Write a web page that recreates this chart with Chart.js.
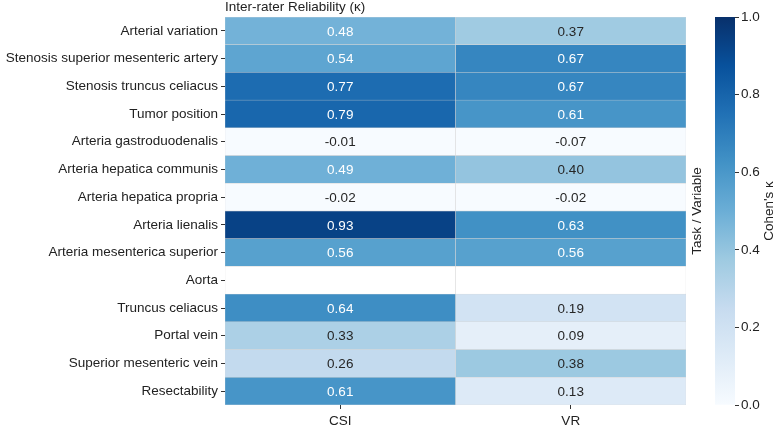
<!DOCTYPE html>
<html>
<head>
<meta charset="utf-8">
<script src="https://cdn.jsdelivr.net/npm/chart.js@4.4.1/dist/chart.umd.min.js"></script>
<style>
html, body { margin: 0; padding: 0; background: #fff; }
#wrap { position: relative; width: 777px; height: 436px; }
#heat { position: absolute; left: 0; top: 0; }
#cbar { position: absolute; left: 700px; top: 0; }
</style>
</head>
<body>
<div id="wrap">
  <canvas id="heat" width="777" height="436"></canvas>
  <canvas id="cbar" width="77" height="436"></canvas>
</div>
<script>
// data
const rows = [
    'Arterial variation',
    'Stenosis superior mesenteric artery',
    'Stenosis truncus celiacus',
    'Tumor position',
    'Arteria gastroduodenalis',
    'Arteria hepatica communis',
    'Arteria hepatica propria',
    'Arteria lienalis',
    'Arteria mesenterica superior',
    'Aorta',
    'Truncus celiacus',
    'Portal vein',
    'Superior mesenteric vein',
    'Resectability'
];
const columns = ['CSI', 'VR'];
const csiValues = [0.48, 0.54, 0.77, 0.79, -0.01, 0.49, -0.02, 0.93, 0.56, null, 0.64, 0.33, 0.26, 0.61];
const vrValues = [0.37, 0.67, 0.67, 0.61, -0.07, 0.40, -0.02, 0.63, 0.56, null, 0.19, 0.09, 0.38, 0.13];
const colorbarTicks = [0, 0.2, 0.4, 0.6, 0.8, 1.0];

const FONT = '13.5px "Liberation Sans", Arial, sans-serif';
Chart.defaults.font.family = '"Liberation Sans", Arial, sans-serif';
Chart.defaults.font.size = 13.5;
Chart.defaults.color = '#222';

// matplotlib "Blues"
const blues = ['#f7fbff', '#deebf7', '#c6dbef', '#9ecae1', '#6baed6', '#4292c6', '#2171b5', '#08519c', '#08306b'];

function hexToRgb(h) {
    return [parseInt(h.slice(1, 3), 16), parseInt(h.slice(3, 5), 16), parseInt(h.slice(5, 7), 16)];
}

function bluesRgb(v) {
    let t = Math.max(0, Math.min(1, v)) * (blues.length - 1);
    let i = Math.min(Math.floor(t), blues.length - 2);
    let f = t - i;
    const a = hexToRgb(blues[i]), b = hexToRgb(blues[i + 1]);
    return a.map((c, k) => Math.round(c + (b[k] - c) * f));
}

function bluesColor(v) {
    const c = bluesRgb(v);
    return `rgb(${c[0]},${c[1]},${c[2]})`;
}

// seaborn-style text colour choice
function textColor(v) {
    const lin = bluesRgb(v).map(c => {
        c = c / 255;
        return c <= 0.03928 ? c / 12.92 : Math.pow((c + 0.055) / 1.055, 2.4);
    });
    const lum = 0.2126 * lin[0] + 0.7152 * lin[1] + 0.0722 * lin[2];
    return lum > 0.408 ? '#262626' : '#ffffff';
}

const seriesValues = [csiValues, vrValues];

const datasets = columns.map((col, ci) => ({
    label: col,
    data: rows.map(() => [ci, ci + 1]),
    kappa: seriesValues[ci],
    backgroundColor: seriesValues[ci].map(v => v === null ? '#ffffff' : bluesColor(v)),
    borderColor: '#d6d6d6',
    borderWidth: 0.5,
    borderSkipped: false,
    barPercentage: 1,
    categoryPercentage: 1,
    grouped: false
}));

const cellText = {
    id: 'cellText',
    afterDatasetsDraw(chart) {
        const ctx = chart.ctx;
        ctx.save();
        ctx.font = FONT;
        ctx.textAlign = 'center';
        ctx.textBaseline = 'middle';
        chart.data.datasets.forEach((ds, di) => {
            chart.getDatasetMeta(di).data.forEach((el, i) => {
                const v = ds.kappa[i];
                if (v === null) return;
                ctx.fillStyle = textColor(v);
                ctx.fillText(v.toFixed(2), (el.x + el.base) / 2, el.y + 1);
            });
        });
        // title and side label
        const area = chart.chartArea;
        ctx.fillStyle = '#222';
        ctx.textAlign = 'left';
        ctx.fillText('Inter-rater Reliability (κ)', area.left, 7);
        ctx.translate(area.right + 11, (area.top + area.bottom) / 2);
        ctx.rotate(-Math.PI / 2);
        ctx.textAlign = 'center';
        ctx.fillText('Task / Variable', 0, 0);
        ctx.restore();
    }
};

new Chart(document.getElementById('heat'), {
    type: 'bar',
    data: { labels: rows, datasets: datasets },
    options: {
        responsive: false,
        animation: false,
        indexAxis: 'y',
        layout: { padding: { top: 17, right: 91, left: 0, bottom: 0 } },
        plugins: { legend: { display: false }, tooltip: { enabled: false } },
        scales: {
            y: {
                type: 'category',
                grid: { offset: false, drawOnChartArea: false, drawTicks: true, tickLength: 4, color: '#333' },
                border: { display: false },
                ticks: { padding: 3, color: '#222' },
                afterFit: s => { s.width = 225; }
            },
            x: {
                type: 'linear',
                min: 0,
                max: 2,
                afterBuildTicks: s => { s.ticks = columns.map((c, i) => ({ value: i + 0.5 })); },
                ticks: { callback: v => columns[Math.floor(v)], padding: 4, color: '#222', maxRotation: 0 },
                grid: { drawOnChartArea: false, drawTicks: true, tickLength: 4, color: '#333' },
                border: { display: false },
                afterFit: s => { s.height = 31; }
            }
        }
    },
    plugins: [cellText]
});

// colour bar
const cbarLabel = {
    id: 'cbarLabel',
    afterDraw(chart) {
        const ctx = chart.ctx;
        const area = chart.chartArea;
        ctx.save();
        ctx.font = FONT;
        ctx.fillStyle = '#222';
        ctx.textAlign = 'center';
        ctx.textBaseline = 'middle';
        ctx.translate(69, (area.top + area.bottom) / 2);
        ctx.rotate(-Math.PI / 2);
        ctx.fillText("Cohen's κ", 0, 0);
        ctx.restore();
    }
};

new Chart(document.getElementById('cbar'), {
    type: 'bar',
    data: {
        labels: [''],
        datasets: [{
            data: [[0, 1]],
            backgroundColor: c => {
                const area = c.chart.chartArea;
                if (!area) return blues[4];
                const g = c.chart.ctx.createLinearGradient(0, area.bottom, 0, area.top);
                blues.forEach((b, i) => g.addColorStop(i / (blues.length - 1), b));
                return g;
            },
            borderWidth: 0,
            barPercentage: 1,
            categoryPercentage: 1
        }]
    },
    options: {
        responsive: false,
        animation: false,
        layout: { padding: { top: 17, bottom: 31, left: 15, right: 0 } },
        plugins: { legend: { display: false }, tooltip: { enabled: false } },
        scales: {
            x: { display: false },
            y: {
                position: 'right',
                min: 0,
                max: 1,
                afterBuildTicks: s => { s.ticks = colorbarTicks.map(v => ({ value: v })); },
                ticks: { callback: v => v.toFixed(1), padding: 2, color: '#222' },
                grid: { drawOnChartArea: false, drawTicks: true, tickLength: 4, color: '#333' },
                border: { display: false },
                afterFit: s => { s.width = 42; }
            }
        }
    },
    plugins: [cbarLabel]
});
</script>
</body>
</html>
